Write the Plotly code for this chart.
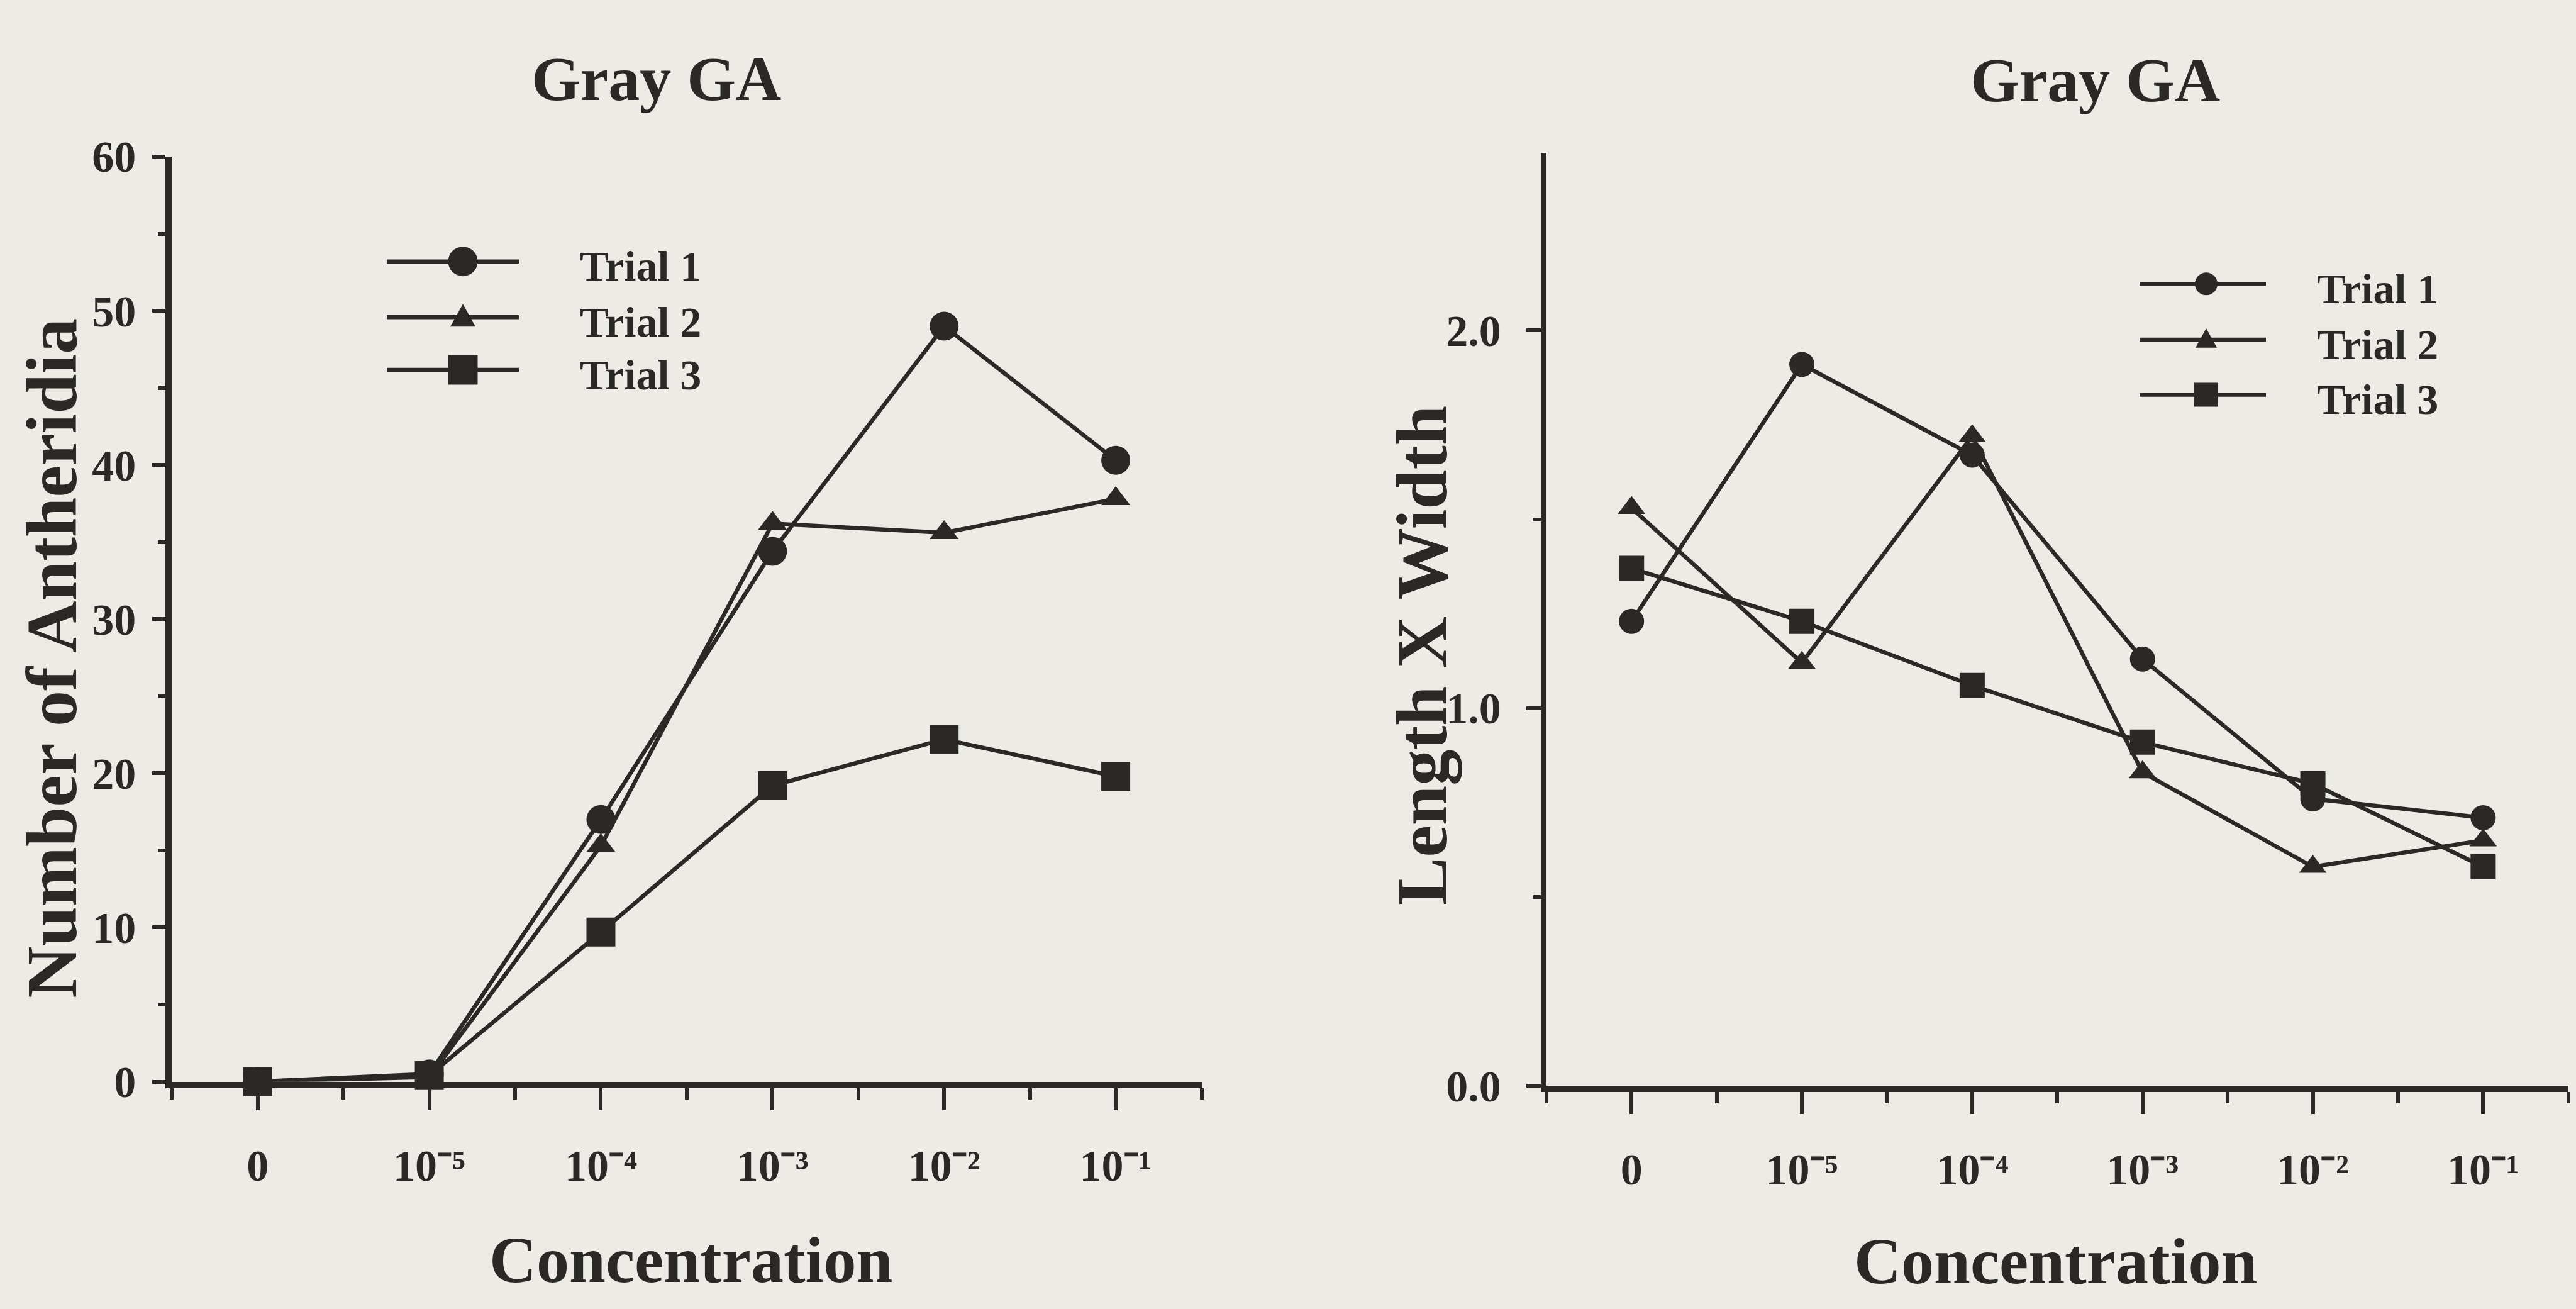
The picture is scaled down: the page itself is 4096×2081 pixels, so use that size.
import plotly.graph_objects as go

# ---------------- data ----------------
conc_labels = ["0", "10⁻⁵", "10⁻⁴", "10⁻³", "10⁻²", "10⁻¹"]
conc_pos = list(range(len(conc_labels)))

trial_names = ["Trial 1", "Trial 2", "Trial 3"]

# Left panel: Number of Antheridia
ant_trial1 = [0, 0.5, 17.0, 34.4, 49.0, 40.3]
ant_trial2 = [0, 0.3, 15.3, 36.2, 35.6, 37.8]
ant_trial3 = [0, 0.4, 9.7, 19.2, 22.2, 19.8]

# Right panel: Length X Width
lw_trial1 = [1.23, 1.91, 1.67, 1.13, 0.76, 0.71]
lw_trial2 = [1.53, 1.12, 1.72, 0.83, 0.58, 0.65]
lw_trial3 = [1.37, 1.23, 1.06, 0.91, 0.80, 0.58]

left_yticks = [0, 10, 20, 30, 40, 50, 60]
right_yticks = [0, 1, 2]
right_yticklabels = ["0.0", "1.0", "2.0"]

# ---------------- style ----------------
W, H = 4096, 2081
INK = "#2a2925"
BG = "#ecebe5"
FONT = "Liberation Serif"

def px(x):
    return x / W

def py(y):
    return 1 - y / H

symbols = ["circle", "triangle-up", "square"]
left_sizes = [46, 40, 46]
right_sizes = [40, 38, 40]

fig = go.Figure()

left_series = [ant_trial1, ant_trial2, ant_trial3]
right_series = [lw_trial1, lw_trial2, lw_trial3]

for name, vals, sym, sz in zip(trial_names, left_series, symbols, left_sizes):
    fig.add_trace(go.Scatter(
        x=conc_pos, y=vals, name=name, mode="lines+markers",
        line=dict(color=INK, width=6.5),
        marker=dict(symbol=sym, size=sz, color=INK, line=dict(width=0)),
        cliponaxis=False, showlegend=False, xaxis="x", yaxis="y"))

for name, vals, sym, sz in zip(trial_names, right_series, symbols, right_sizes):
    fig.add_trace(go.Scatter(
        x=conc_pos, y=vals, name=name, mode="lines+markers",
        line=dict(color=INK, width=6.5),
        marker=dict(symbol=sym, size=sz, color=INK, line=dict(width=0)),
        cliponaxis=False, showlegend=False, xaxis="x2", yaxis="y2"))

tickfont = dict(family=FONT, size=70, color=INK, weight="bold")

def xaxis_cfg(domain, anchor):
    return dict(
        domain=domain, anchor=anchor, range=[-0.5, 5.5],
        tickmode="array", tickvals=conc_pos, ticktext=conc_labels,
        ticks="outside", ticklen=35, tickwidth=6, tickcolor=INK,
        minor=dict(tickmode="linear", tick0=-0.5, dtick=0.5, ticks="outside",
                   ticklen=18, tickwidth=6, tickcolor=INK),
        showline=True, linewidth=10, linecolor=INK,
        showgrid=False, zeroline=False, tickfont=tickfont,
        ticklabelstandoff=28)

left_dom_x = [px(273.3), px(1910.5)]
left_dom_y = [py(1746.3), py(220)]
right_dom_x = [px(2458.8), px(4083.8)]
right_dom_y = [py(1753.3), py(213.9)]

fig.update_layout(
    width=W, height=H,
    margin=dict(l=0, r=0, t=0, b=0),
    paper_bgcolor=BG, plot_bgcolor=BG,
    showlegend=False,
    xaxis=xaxis_cfg(left_dom_x, "y"),
    xaxis2=xaxis_cfg(right_dom_x, "y2"),
    yaxis=dict(
        domain=left_dom_y, anchor="x", range=[0, 60],
        tickmode="array", tickvals=left_yticks,
        ticks="outside", ticklen=21, tickwidth=6, tickcolor=INK,
        minor=dict(tickmode="linear", tick0=0, dtick=5, ticks="outside",
                   ticklen=12, tickwidth=6, tickcolor=INK),
        showline=True, linewidth=10, linecolor=INK,
        showgrid=False, zeroline=False, tickfont=tickfont,
        ticklabelstandoff=12),
    yaxis2=dict(
        domain=right_dom_y, anchor="x2", range=[0, 2.47],
        tickmode="array", tickvals=right_yticks, ticktext=right_yticklabels,
        ticks="outside", ticklen=23, tickwidth=6, tickcolor=INK,
        minor=dict(tickmode="linear", tick0=0, dtick=0.5, ticks="outside",
                   ticklen=12, tickwidth=6, tickcolor=INK),
        showline=True, linewidth=9, linecolor=INK,
        showgrid=False, zeroline=False, tickfont=tickfont,
        ticklabelstandoff=26),
)

# ---------------- titles (annotations) ----------------
def bold(size):
    return dict(family=FONT, size=size, color=INK, weight="bold")

annotations = [
    dict(text="Gray GA", x=px(1043), y=py(92), xref="paper", yref="paper",
         showarrow=False, xanchor="center", yanchor="middle", font=bold(100)),
    dict(text="Gray GA", x=px(3331), y=py(94), xref="paper", yref="paper",
         showarrow=False, xanchor="center", yanchor="middle", font=bold(100)),
    dict(text="Concentration", x=px(1098), y=py(2040), xref="paper", yref="paper",
         showarrow=False, xanchor="center", yanchor="middle", font=bold(104)),
    dict(text="Concentration", x=px(3268), y=py(2042), xref="paper", yref="paper",
         showarrow=False, xanchor="center", yanchor="middle", font=bold(104)),
    dict(text="Number of Antheridia", x=px(83), y=py(1048), xref="paper", yref="paper",
         showarrow=False, xanchor="center", yanchor="middle", textangle=-90, font=bold(114)),
    dict(text="Length X Width", x=px(2262), y=py(1043), xref="paper", yref="paper",
         showarrow=False, xanchor="center", yanchor="middle", textangle=-90, font=bold(114)),
]

# ---------------- custom legends ----------------
shapes = []

def add_legend(line_x0, line_x1, marker_x, text_x, rows, sizes, fsize):
    for name, sym, row, sz in zip(trial_names, symbols, rows, sizes):
        shapes.append(dict(type="line", xref="paper", yref="paper",
                           x0=px(line_x0), x1=px(line_x1), y0=py(row), y1=py(row),
                           line=dict(color=INK, width=6.5)))
        r = sz / 2
        if sym == "circle":
            shapes.append(dict(type="circle", xref="paper", yref="paper",
                               xsizemode="pixel", ysizemode="pixel",
                               xanchor=px(marker_x), yanchor=py(row),
                               x0=-r, x1=r, y0=-r, y1=r,
                               fillcolor=INK, line=dict(width=0)))
        elif sym == "square":
            shapes.append(dict(type="rect", xref="paper", yref="paper",
                               xsizemode="pixel", ysizemode="pixel",
                               xanchor=px(marker_x), yanchor=py(row),
                               x0=-r, x1=r, y0=-r, y1=r,
                               fillcolor=INK, line=dict(width=0)))
        else:
            path = f"M{-r},{-0.75*r} L{r},{-0.75*r} L0,{1.05*r} Z"
            shapes.append(dict(type="path", xref="paper", yref="paper",
                               xsizemode="pixel", ysizemode="pixel",
                               xanchor=px(marker_x), yanchor=py(row),
                               path=path, fillcolor=INK, line=dict(width=0)))
        annotations.append(dict(text=name, x=px(text_x), y=py(row + 8),
                                xref="paper", yref="paper", showarrow=False,
                                xanchor="left", yanchor="middle", font=bold(fsize)))

add_legend(615, 825, 736, 920, [393, 485, 572], [47, 40, 47], 68)
add_legend(3402, 3603, 3508, 3682, [430, 522, 613], [36, 34, 38], 68)

fig.update_layout(shapes=shapes, annotations=annotations)

fig.write_html("out.html")
